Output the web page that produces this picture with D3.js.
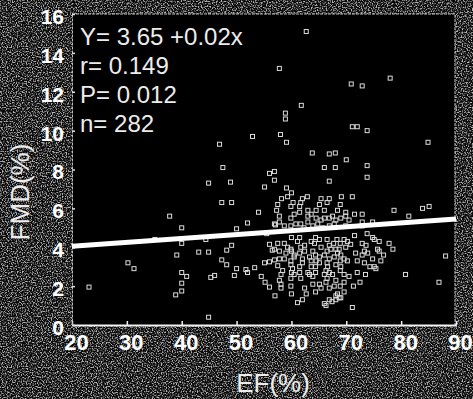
<!DOCTYPE html>
<html>
<head>
<meta charset="utf-8">
<script src="https://cdn.jsdelivr.net/npm/d3@7"></script>
<style>
  html, body { margin: 0; padding: 0; background: #000; }
  svg { display: block; }
  text { font-family: "Liberation Sans", Arial, sans-serif; }
</style>
</head>
<body>
<svg id="chart" width="473" height="399"></svg>
<script>
// EF (%) vs FMD (%) for each subject
const points = [
  [62.7,15.1],[57.8,13.2],[70.9,12.4],[72.9,12.3],[78,12.7],[61.8,11.3],[58.9,10.9],[58.9,10.6],
  [71.1,10.2],[72,10.2],[73.8,10.0],[52.9,9.7],[58,9.8],[59.1,9.4],[84.9,9.4],[63.8,8.85],
  [66.9,8.8],[68,8.85],[70,8.5],[73.8,8.2],[56,7.8],[56.9,7.9],[56.9,7.45],[66,8.1],
  [68,8.1],[66.9,7.4],[73.8,7.6],[48.9,7.35],[55.1,7.1],[59.1,7.05],[60,6.8],[58.2,6.5],
  [62.9,6.6],[62,6.5],[69.1,6.6],[71.1,6.6],[66.9,6.5],[46.9,9.3],[47.5,8.1],[44.9,7.3],
  [47.3,6.3],[49.1,6.3],
  [37.8,5.6],[40,5.0],[35.1,4.4],[40,4.2],[44.4,4.4],[39.1,3.6],[43.1,3.75],[44.9,3.75],
  [48.2,3.85],[30.2,3.2],[31.3,2.9],[40,2.7],[40.9,2.5],[40,2.15],[40,1.75],[38.9,1.55],
  [23.1,1.95],[45.3,2.45],[46,2.55],[47.3,3.35],[48.2,3.1],[50,2.9],[44.9,0.4],
  [54,5.8],[57.3,5.9],[52,5.25],[50,4.95],[57.1,5.15],[56,4.15],[49.1,4.1],[56.5,3.85],
  [55.1,3.2],[56,3.25],[56.9,3.35],[57.5,3.05],[53.3,2.95],[52,2.7],[49.6,2.55],[56,1.95],
  [59.9,6.1],[61.7,6.3],[63.6,5.7],[65.1,6.2],[68.4,5.9],[69.9,5.8],[69.9,5.6],[72.9,5.7],
  [78.7,5.9],[81.4,5.6],[83.9,6.0],[85.1,6.1],[56.9,5.2],[57.8,5.3],[58.7,5.1],[59.9,5.5],
  [60.8,5.2],[61.7,5.2],[63,5.3],[63.9,5.1],[64.8,5.2],[65.4,5.4],[66.9,5.5],[66.9,5.1],
  [68.1,5.4],[69,5.5],[69.9,5.1],[72.9,5.3],[72.9,5.1],[56.9,3.9],[58.7,4.2],[59.9,3.9],
  [61.7,4.0],[62.4,3.8],[63.6,4.3],[65.1,4.4],[65.4,4.0],[66.9,4.1],[67.2,3.9],[68.1,3.9],
  [69.6,4.4],[69.9,4.0],[70.2,4.3],[72.9,4.2],[73.6,4.1],[75.1,4.4],[75.7,3.9],[77.8,4.2],
  [57.8,3.4],[58.7,3.4],[59.9,3.3],[60.5,3.5],[62,3.4],[63.3,3.5],[63.6,3.3],[64.5,3.3],
  [65.1,3.5],[66,3.6],[66.9,3.4],[67.8,3.5],[69,3.6],[70.2,3.3],[71.7,3.7],[72,3.3],
  [72.9,3.6],[73.9,3.7],[74.8,3.4],[76.3,3.3],[88.1,3.55],[51.7,2.85],[58.4,2.8],[60.2,2.9],
  [61.7,2.4],[63,2.7],[63.9,2.5],[66,2.6],[66.3,2.8],[66.9,2.7],[68.1,2.3],[69,3.0],
  [72,2.7],[75.1,3.0],[75.4,2.9],[80.8,2.6],[57.8,2.3],[58.1,1.9],[59.9,2.4],[62.7,1.6],
  [63.3,2.6],[65.1,2.1],[65.4,1.9],[66.9,1.9],[68.4,1.6],[68.1,1.5],[69,1.4],[86.9,2.2],
  [61.1,1.15],[66,1.1],[66.3,1.0],[66.9,1.3],[68.1,1.3],[68.7,1.4],[71.1,0.9],
  [74.8,5.3],[69.6,3.4],[69.6,2.6],[69.6,2.2],[69.6,1.7],[70.8,4.15],[74.8,4.5],[76,4.3],
  [73.3,3.8],[76,3.8],[73.3,3.2],
  [59.3,6.6],[65.4,6.5],[57.5,6.2],[63,5.9],[66,5.9],[57.8,5.6],[60.5,5.7],[63,5.6],
  [64.5,5.5],[66,5.5],[67.5,5.6],[59.9,5.1],[65.7,5.0],[57.5,4.2],[59.3,4.0],[61.1,4.3],
  [62.4,4.1],[64.2,4.2],[67.7,4.2],[68.3,4.4],[68.7,3.9],[57.8,3.8],[59,3.7],[60.5,3.6],
  [63.9,3.8],[68.4,3.7],[59.9,3.1],[62,3.2],[63.6,3.0],[65.1,3.2],[66.6,3.0],[68.1,3.1],
  [58.1,2.6],[60.5,2.6],[64.4,2.7],[67.5,2.6],[58.1,2.1],[59.9,2.0],[62.4,1.9],[63.9,2.1],
  [66.3,2.2],[67.8,2.0],[67.4,1.2],
  [61.5,4.5],[61.5,3.7],[61.5,3.0],[61.5,2.7],[66.5,4.4],[66.5,3.8],[66.5,3.2],[66.5,2.4],
  [68.9,4.2],[68.9,3.3],[68.9,2.8],[68.9,2.0],[64.4,4.5],[64.4,3.6],[64.4,3.0],[64.4,1.7],
  [60,4.5],[60,3.8],[60,2.7],[60,1.6],
  [61.5,5.8],[61.5,6.1],[64.5,5.9],[66.5,6.3],[68.9,6.2],[67.8,5.2],[70.5,5.4],[71.5,5.7],
  [62.3,5.0],[60.3,6.3],
  [70.5,2.5],[71.3,2.0],[72.5,2.2],[73.5,2.6],[74.3,3.0],[71.5,4.6],[73.8,4.7],[76.8,3.6],
  [78.5,3.9],[55.5,4.7],[54.5,2.5],[55.2,2.2],[57,1.5],[62,1.3]
];

// Linear fit reported in the panel
const fitIntercept = 3.65;
const fitSlope = 0.02;
const statLines = ["Y= 3.65 +0.02x", "r= 0.149", "P= 0.012", "n= 282"];

const xTicks = [20, 30, 40, 50, 60, 70, 80, 90];
const yTicks = [0, 2, 4, 6, 8, 10, 12, 14, 16];
const xDomain = [20, 90];
const yDomain = [0, 16];

const svg = d3.select("#chart");
const W = 473, H = 399;
const plot = { left: 72, right: 456, top: 14, bottom: 325 };

const x = d3.scaleLinear().domain(xDomain).range([plot.left, plot.right]);
const y = d3.scaleLinear().domain(yDomain).range([plot.bottom, plot.top]);

// grainy print texture behind the panel
const defs = svg.append("defs");
const grain = defs.append("filter").attr("id", "grain")
  .attr("x", 0).attr("y", 0).attr("width", "100%").attr("height", "100%")
  .attr("color-interpolation-filters", "sRGB");
grain.append("feTurbulence").attr("type", "fractalNoise")
  .attr("baseFrequency", 0.8).attr("numOctaves", 1).attr("seed", 7).attr("result", "n");
grain.append("feColorMatrix").attr("type", "matrix")
  .attr("values", "0 0 0 0 0.7  0 0 0 0 0.7  0 0 0 0 0.7  1 0 0 0 0");
const ct = grain.append("feComponentTransfer");
ct.append("feFuncA").attr("type", "linear").attr("slope", 5).attr("intercept", -2.35);

svg.append("rect").attr("width", W).attr("height", H).attr("fill", "#0a0a0a");
svg.append("rect").attr("width", W).attr("height", H).attr("filter", "url(#grain)");

// plot panel
svg.append("rect")
  .attr("x", plot.left).attr("y", plot.top)
  .attr("width", plot.right - plot.left - 1).attr("height", plot.bottom - plot.top)
  .attr("fill", "#000");

// panel frame (top and right)
svg.append("path")
  .attr("d", `M${plot.left},${plot.top}H${plot.right - 1}V${plot.bottom}`)
  .attr("fill", "none").attr("stroke", "#bdbdbd").attr("stroke-width", 1)
  .attr("stroke-dasharray", "3,1");

// axes
const xAxis = d3.axisBottom(x).tickValues(xTicks).tickFormat(d3.format("d"))
  .tickSizeInner(-4).tickSizeOuter(0).tickPadding(9);
const yAxis = d3.axisLeft(y).tickValues(yTicks).tickFormat(d3.format("d"))
  .tickSizeInner(-3).tickSizeOuter(0).tickPadding(8);

const gx = svg.append("g").attr("transform", `translate(0,${plot.bottom})`).call(xAxis);
gx.select(".domain").attr("stroke", "#f2f2f2").attr("stroke-width", 2);
gx.selectAll(".tick line").attr("stroke", "#f2f2f2").attr("stroke-width", 1.5);
gx.selectAll(".tick text")
  .attr("fill", "#fff").attr("font-size", 22).attr("font-weight", "bold")
  .attr("font-family", "Liberation Sans, Arial, sans-serif")
  .attr("dx", 4);

const gy = svg.append("g").attr("transform", `translate(${plot.left},0)`).call(yAxis);
gy.select(".domain").attr("stroke", "#bdbdbd").attr("stroke-width", 1)
  .attr("stroke-dasharray", "3,1");
gy.selectAll(".tick line").attr("stroke", "#e0e0e0").attr("stroke-width", 1.5);
gy.selectAll(".tick text")
  .attr("fill", "#fff").attr("font-size", 21).attr("font-weight", "bold")
  .attr("font-family", "Liberation Sans, Arial, sans-serif")
  .attr("dy", "0.45em");

// scatter markers: small open squares
const s = 4;
svg.append("g").selectAll("rect")
  .data(points)
  .join("rect")
  .attr("x", d => x(d[0]) - s / 2)
  .attr("y", d => y(d[1]) - s / 2)
  .attr("width", s).attr("height", s)
  .attr("fill", "none").attr("stroke", "#dcdcdc").attr("stroke-width", 1);

// regression line
const fit = xDomain.map(v => [v, fitIntercept + fitSlope * v]);
svg.append("path")
  .datum(fit)
  .attr("d", d3.line().x(d => x(d[0])).y(d => y(d[1])))
  .attr("stroke", "#fff").attr("stroke-width", 5).attr("fill", "none");

// statistics block
svg.append("g").selectAll("text")
  .data(statLines)
  .join("text")
  .attr("x", 80)
  .attr("y", (d, i) => 45 + i * 29)
  .attr("fill", "#ececec")
  .attr("font-size", 24)
  .text(d => d);

// axis titles
svg.append("text")
  .attr("x", 273).attr("y", 392)
  .attr("text-anchor", "middle")
  .attr("fill", "#ececec").attr("font-size", 26)
  .text("EF(%)");

svg.append("text")
  .attr("transform", "translate(29,192) rotate(-90)")
  .attr("text-anchor", "middle")
  .attr("fill", "#ececec").attr("font-size", 26)
  .text("FMD(%)");
</script>
</body>
</html>
